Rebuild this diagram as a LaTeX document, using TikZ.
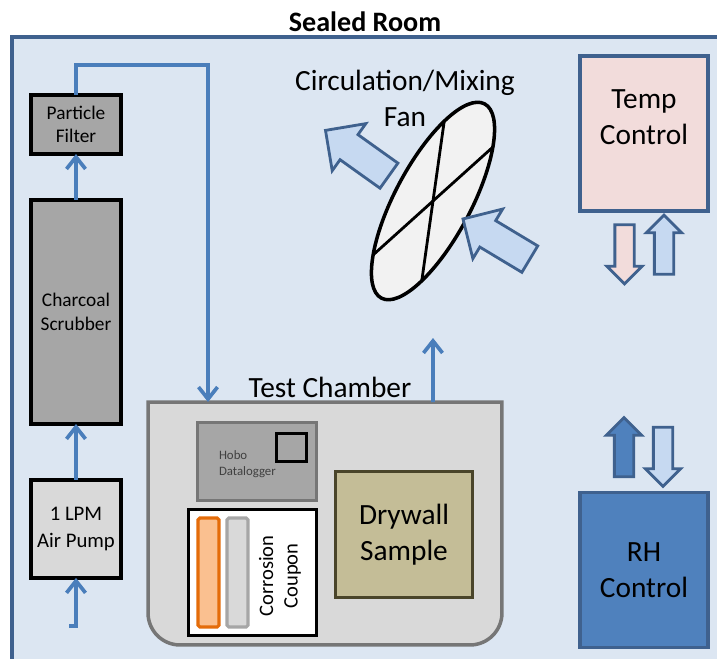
\documentclass[tikz,border=0pt]{standalone}
\usepackage{fontspec}
\setmainfont{Carlito}
\usepackage{tikz}
\usetikzlibrary{positioning, shapes.geometric, shapes.arrows, arrows.meta, calc}
\definecolor{roomFill}{HTML}{DCE6F2}
\definecolor{roomLine}{HTML}{3F618E}
\definecolor{flowColor}{HTML}{4A7EBB}
\definecolor{unitGray}{HTML}{A6A6A6}
\definecolor{lightGray}{HTML}{D9D9D9}
\definecolor{chamberLine}{HTML}{767676}
\definecolor{drywallFill}{HTML}{C4BD97}
\definecolor{drywallLine}{HTML}{4A452A}
\definecolor{copperFill}{HTML}{FAC090}
\definecolor{copperLine}{HTML}{E46C0A}
\definecolor{tempFill}{HTML}{F2DCDB}
\definecolor{rhFill}{HTML}{4F81BD}
\definecolor{airFill}{HTML}{C6D9F1}
\definecolor{fanFill}{HTML}{F2F2F2}

\begin{document}
\begin{tikzpicture}[
  x=0.02cm, y=-0.02cm,
  every node/.style={inner sep=0pt, outer sep=0pt, align=center},
  bigtext/.style={font=\fontsize{16.7}{20.4}\selectfont},
  unit/.style={
    rectangle,
    draw=black,
    fill=unitGray,
    line width=2pt,
    minimum width=1.8cm,
    font=\fontsize{11}{13.5}\selectfont
  },
  ctrlbox/.style={
    rectangle,
    draw=roomLine,
    line width=2.2pt,
    minimum width=2.56cm,
    minimum height=3.1cm,
    bigtext
  },
  flow/.style={
    -{Straight Barb[length=0.24cm, width=0.38cm]},
    draw=flowColor,
    line width=2.1pt
  },
  blockarrow/.style={
    single arrow,
    draw=roomLine,
    line width=1.6pt,
    minimum width=0pt,
    single arrow head extend=0.16cm,
    inner ysep=0.165cm,
    minimum height=1.18cm
  },
  fanarrow/.style={
    blockarrow,
    single arrow head extend=0.27cm,
    inner ysep=0.28cm,
    minimum height=1.56cm,
    fill=airFill
  },
  strip/.style={
    rectangle,
    rounded corners=1pt,
    line width=1.8pt,
    minimum width=0.42cm,
    minimum height=2.18cm
  }
]
  \useasboundingbox (0,0) rectangle (717,659);
  \clip (0,0) rectangle (717,659);

  % Room
  \fill[roomFill] (12,37) rectangle (740,680);
  \draw[roomLine, line width=2.3pt] (12,680) -- (12,37) -- (740,37);
  \node[font=\bfseries\fontsize{16}{19}\selectfont] (title) at (365,22) {Sealed Room};

  % Scrubbing line
  \node[unit, minimum height=1.18cm] (filter) at (76,124.5) {Particle\\Filter};
  \node[unit, minimum height=4.48cm] (scrubber) [below=0.92cm of filter] {Charcoal\\Scrubber};
  \node[unit, fill=lightGray, minimum height=1.96cm,
        font=\fontsize{11.8}{15}\selectfont] (pump) [below=1.12cm of scrubber] {1 LPM\\Air Pump};
  \coordinate (inlet) at (69,626);

  % Test chamber
  \node[minimum width=7.08cm, minimum height=4.86cm] (chamber) at (325,523.5) {};
  \draw[fill=lightGray, draw=chamberLine, line width=2pt]
    (chamber.north west) -- ($(chamber.south west)+(0,0.64cm)$)
    arc[start angle=180, end angle=270, radius=0.64cm]
    -- ($(chamber.south east)+(-0.64cm,0)$)
    arc[start angle=270, end angle=360, radius=0.64cm]
    -- (chamber.north east) -- cycle;
  \node[bigtext, anchor=base] (chamberlabel) at (330,397) {Test Chamber};
  \coordinate (chamberin) at ([xshift=1.2cm]chamber.north west);
  \coordinate (chamberout) at ([xshift=5.7cm]chamber.north west);
  \coordinate (outlet) at (433,338);

  \node[rectangle, draw=chamberLine, fill=unitGray, line width=2.2pt,
        minimum width=2.38cm, minimum height=1.56cm] (logger) at (257,461.5) {};
  \node[rectangle, draw=black, line width=2.2pt,
        minimum width=0.6cm, minimum height=0.56cm] (screen) at (291.5,447.5) {};
  \node[anchor=west, align=left, text=black!75, font=\fontsize{7.3}{9.5}\selectfont]
    (loggerlabel) at (219,464) {Hobo\\Datalogger};

  \node[rectangle, draw=black, fill=white, line width=2pt,
        minimum width=2.56cm, minimum height=2.52cm] (coupon) at (252.5,572.5) {};
  \node[strip, draw=copperLine, fill=copperFill] (copper) at (208.5,572.5) {};
  \node[strip, draw=unitGray, fill=lightGray] (silver) at (237.5,572.5) {};
  \node[rotate=90, font=\fontsize{11.7}{14}\selectfont] (couponlabel) at (280,576) {Corrosion\\Coupon};

  \node[rectangle, draw=drywallLine, fill=drywallFill, line width=2pt,
        minimum width=2.74cm, minimum height=2.52cm, bigtext] (drywall) at (404,534.5) {Drywall\\Sample};

  % Fan
  \node[ellipse, draw=black, fill=fanFill, line width=2pt,
        minimum width=4.4cm, minimum height=1.52cm, rotate=62] (fan) at (433,201) {};
  \draw[line width=1.6pt] (fan.20) -- (fan.200);
  \draw[line width=1.6pt] (fan.-20) -- (fan.160);
  \node[bigtext] (fanlabel) at (405,98) {Circulation/Mixing\\Fan};
  \node[fanarrow, rotate=144.5] (airout) at (363.5,157.5) {};
  \node[fanarrow, rotate=149] (airin) at (503,243) {};

  % Controls
  \node[ctrlbox, fill=tempFill] (temp) at (644,133.5) {};
  \node[bigtext] (templabel) at (644,117) {Temp\\Control};
  \node[blockarrow, fill=tempFill, rotate=-90] (tempdown) at (624.5,249.5) {};
  \node[blockarrow, fill=airFill, rotate=90] (tempup) at (664,249.5) {};

  \node[ctrlbox, fill=rhFill] (rh) at (644,570) {RH\\Control};
  \node[blockarrow, fill=rhFill, rotate=90] (rhup) at (624,452) {};
  \node[blockarrow, fill=airFill, rotate=-90] (rhdown) at (663,452) {};

  % Air flow
  \draw[flow] (inlet) -| (pump.south);
  \draw[flow] (pump) -- (scrubber);
  \draw[flow] (scrubber) -- (filter);
  \draw[flow] (filter.north) -- (filter.north |- 0,65) -| (chamberin);
  \draw[flow] (chamberout) -- (outlet);
\end{tikzpicture}
\end{document}
